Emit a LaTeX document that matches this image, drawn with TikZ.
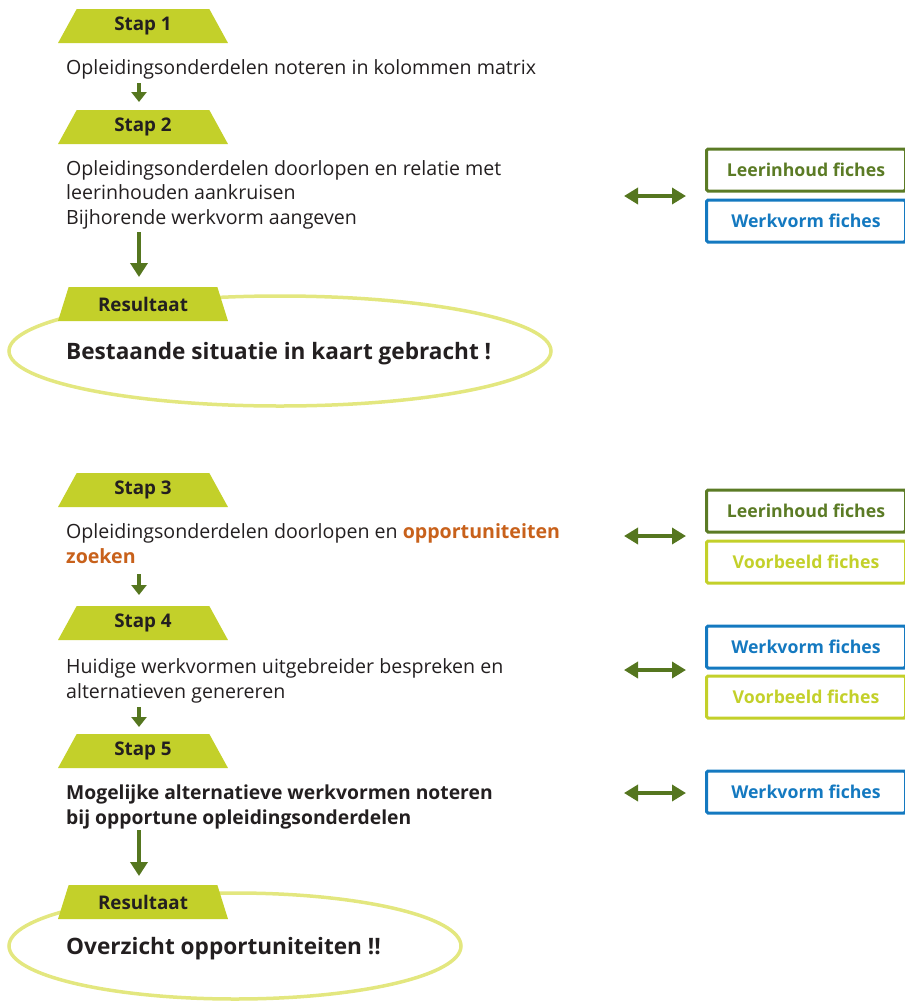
\documentclass[tikz,border=0pt]{standalone}
\usepackage{fontspec}
\setmainfont{Open Sans}
\usetikzlibrary{shapes.geometric,arrows.meta}
\definecolor{lime}{HTML}{C3D02A}
\definecolor{dkgreen}{HTML}{55761F}
\definecolor{leer}{HTML}{5B7B25}
\definecolor{wblue}{HTML}{1479C0}
\definecolor{ellc}{HTML}{E3E77F}
\definecolor{oran}{HTML}{C8611B}
\definecolor{txt}{HTML}{231F20}
\tikzset{
  tab/.style={trapezium, trapezium left angle=66, trapezium right angle=66,
    trapezium stretches=true, minimum width=170pt, minimum height=34pt,
    fill=lime, text=txt, font=\fontsize{18.8}{20}\selectfont\bfseries, inner sep=0pt},
  body/.style={anchor=base west, align=left, inner sep=0pt, text=txt,
    font=\fontsize{19.6}{24.5}\selectfont},
  bodyb/.style={body, font=\fontsize{19.3}{24.5}\selectfont\bfseries},
  fiche/.style={draw, line width=3pt, rounded corners=1.5pt, minimum width=199pt,
    minimum height=42pt, inner sep=0pt, font=\fontsize{17.7}{20}\selectfont\bfseries},
  resell/.style={ellipse, draw=ellc, line width=3.5pt, inner sep=0pt},
  restext/.style={anchor=base west, inner sep=0pt, text=txt, font=\fontsize{22.6}{24}\selectfont\bfseries},
  downsmall/.style={draw=dkgreen, line width=4.5pt, -{Triangle[length=10pt,width=15pt]}},
  downbig/.style={draw=dkgreen, line width=4.5pt, -{Triangle[length=14pt,width=17pt]}},
  both/.style={draw=dkgreen, line width=4.5pt, {Triangle[length=14pt,width=16pt]}-{Triangle[length=14pt,width=16pt]}},
}
\begin{document}
\begin{tikzpicture}[x=1pt,y=-1pt]
\useasboundingbox (0,0) rectangle (905,1002);
% ---- top part
\node[resell, minimum width=542pt, minimum height=110pt] (e1) at (280,351) {};
\node[resell, minimum width=452pt, minimum height=106pt] (e2) at (235,946) {};

\node[tab] (s1) at (143,26) {Stap 1};
\node[body] (t1) at (66,74) {Opleidingsonderdelen noteren in kolommen matrix};
\node[tab] (s2) at (143,127) {Stap 2};
\node[body] (t2) at (66,224) {Opleidingsonderdelen doorlopen en relatie met\\leerinhouden aankruisen\\Bijhorende werkvorm aangeven};
\node[tab] (r1) at (143,304) {Resultaat};
\node[restext] (rt1) at (66,359) {Bestaande situatie in kaart gebracht !};

\coordinate (d1a) at (139,83); \coordinate (d1b) at (139,102);
\draw[downsmall] (d1a) -- (d1b);
\coordinate (d2a) at (139,232); \coordinate (d2b) at (139,277);
\draw[downbig] (d2a) -- (d2b);

\node[fiche, draw=leer, text=leer] (f1) at (806,170) {Leerinhoud fiches};
\node[fiche, draw=wblue, text=wblue] (f2) at (806,221) {Werkvorm fiches};
\coordinate (b1l) at (624,196); \coordinate (b1r) at (686,196);
\draw[both] (b1l) -- (b1r);

% ---- bottom part
\node[tab] (s3) at (143,490) {Stap 3};
\node[body] (t3) at (66,563) {Opleidingsonderdelen doorlopen en {\color{oran}\bfseries opportuniteiten}\\{\color{oran}\bfseries zoeken}};
\coordinate (d3a) at (139,574); \coordinate (d3b) at (139,595);
\draw[downsmall] (d3a) -- (d3b);

\node[tab] (s4) at (143,623) {Stap 4};
\node[body] (t4) at (66,698) {Huidige werkvormen uitgebreider bespreken en\\alternatieven genereren};
\coordinate (d4a) at (139,707); \coordinate (d4b) at (139,727);
\draw[downsmall] (d4a) -- (d4b);

\node[tab] (s5) at (143,751) {Stap 5};
\node[bodyb] (t5) at (66,824) {Mogelijke alternatieve werkvormen noteren\\bij opportune opleidingsonderdelen};
\coordinate (d5a) at (139,830); \coordinate (d5b) at (139,876);
\draw[downbig] (d5a) -- (d5b);

\node[tab] (r2) at (143,902) {Resultaat};
\node[restext] (rt2) at (66,954) {Overzicht opportuniteiten !!};

\node[fiche, draw=leer, text=leer] (f3) at (806,511) {Leerinhoud fiches};
\node[fiche, draw=lime, text=lime] (f4) at (806,562) {Voorbeeld fiches};
\coordinate (b2l) at (624,536); \coordinate (b2r) at (686,536);
\draw[both] (b2l) -- (b2r);

\node[fiche, draw=wblue, text=wblue] (f5) at (806,647) {Werkvorm fiches};
\node[fiche, draw=lime, text=lime] (f6) at (806,697) {Voorbeeld fiches};
\coordinate (b3l) at (624,670); \coordinate (b3r) at (686,670);
\draw[both] (b3l) -- (b3r);

\node[fiche, draw=wblue, text=wblue] (f7) at (806,792) {Werkvorm fiches};
\coordinate (b4l) at (624,793); \coordinate (b4r) at (686,793);
\draw[both] (b4l) -- (b4r);
\end{tikzpicture}
\end{document}
